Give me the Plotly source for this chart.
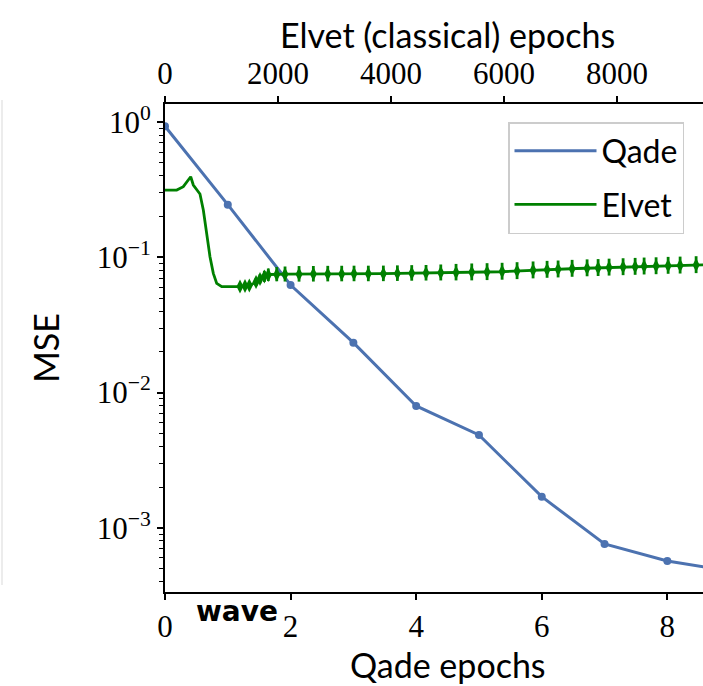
import plotly.graph_objects as go

# ---------------- data ----------------
qade_epochs = [0, 1, 2, 3, 4, 5, 6, 7, 8, 9]
qade_mse = [0.93, 0.245, 0.0624, 0.0234, 0.00796, 0.00486, 0.0017, 0.00076, 0.000569, 0.00048]

elvet_epochs = [0, 207, 324, 412, 455, 501, 619, 678, 738, 796, 855, 915, 1004, 1297,
                1504, 1611, 1681, 1770, 1858, 2124, 3858, 5044, 5929, 7292, 8407, 9416, 10000]
elvet_mse = [0.314, 0.314, 0.3325, 0.3726, 0.394, 0.342, 0.2937, 0.2237, 0.1504, 0.101,
             0.0761, 0.0642, 0.0606, 0.0606, 0.0619, 0.0657, 0.0697, 0.0727, 0.0746, 0.0750,
             0.0756, 0.0769, 0.0782, 0.0826, 0.0852, 0.0877, 0.0892]

# oscillation bursts of the Elvet loss (epoch, centre value, extent up / down in decades)
spike_epochs = [1327, 1416, 1492, 1611, 1681, 1758, 1828, 1977, 2124, 2372, 2625, 2880, 3127,
                3345, 3598, 3864, 4112, 4366, 4619, 4880, 5150, 5428, 5699, 5965, 6230, 6513,
                6761, 6956, 7204, 7469, 7664, 7858, 8106, 8319, 8478, 8690, 8903, 9115, 9398]
spike_center = [0.0609, 0.0614, 0.0619, 0.0657, 0.0691, 0.0721, 0.0740, 0.0746, 0.0748, 0.0750,
                0.0751, 0.0753, 0.0754, 0.0755, 0.0755, 0.0756, 0.0759, 0.0762, 0.0764, 0.0767,
                0.0771, 0.0775, 0.0779, 0.0784, 0.0792, 0.0802, 0.0810, 0.0815, 0.0824, 0.0831,
                0.0835, 0.0841, 0.0847, 0.0852, 0.0857, 0.0861, 0.0867, 0.0871, 0.0877]
spike_up = [0.018, 0.020, 0.022, 0.030, 0.035, 0.042, 0.048, 0.055, 0.058, 0.060, 0.060, 0.060,
            0.060, 0.060, 0.060, 0.060, 0.060, 0.060, 0.060, 0.062, 0.064, 0.065, 0.065, 0.065,
            0.065, 0.065, 0.065, 0.065, 0.065, 0.065, 0.065, 0.065, 0.065, 0.065, 0.065, 0.065,
            0.065, 0.065, 0.065]
spike_dn = [0.018, 0.020, 0.022, 0.030, 0.033, 0.040, 0.045, 0.050, 0.053, 0.055, 0.055, 0.055,
            0.055, 0.055, 0.055, 0.055, 0.055, 0.055, 0.055, 0.056, 0.058, 0.060, 0.060, 0.060,
            0.060, 0.060, 0.060, 0.060, 0.060, 0.060, 0.060, 0.060, 0.060, 0.060, 0.060, 0.060,
            0.060, 0.060, 0.060]

qade_ticks = [0, 2, 4, 6, 8]
elvet_ticks = [0, 2000, 4000, 6000, 8000]
y_tickvals = [1, 0.1, 0.01, 0.001]
y_ticktext = ["10<sup>0</sup>", "10<sup>−1</sup>", "10<sup>−2</sup>", "10<sup>−3</sup>"]

# ---------------- styling ----------------
BLUE = "#4C72B0"
GREEN = "#008000"
SERIF = "Liberation Serif"
SANS = "Lato"
SANS_SIZE = 34
W, H = 703, 686
ML, MT, MB = 165, 104, 94
X_MAX = 8.568
X2_MAX = 9520

err_plus = [c * (10 ** u) - c for c, u in zip(spike_center, spike_up)]
err_minus = [c - c * (10 ** (-d)) for c, d in zip(spike_center, spike_dn)]

minor_vals = [k * 10.0 ** e for e in range(-4, 1) for k in range(2, 10)]

fig = go.Figure()
fig.add_trace(go.Scatter(x=qade_epochs, y=qade_mse, mode="lines", name="Qade",
                         line=dict(color=BLUE, width=3), legendgroup="a"))
fig.add_trace(go.Scatter(x=qade_epochs, y=qade_mse, mode="markers", showlegend=False,
                         marker=dict(color=BLUE, size=8)))
fig.add_trace(go.Scatter(x=elvet_epochs, y=elvet_mse, mode="lines", name="Elvet",
                         line=dict(color=GREEN, width=2.8), xaxis="x2", legendgroup="b"))
fig.add_trace(go.Scatter(x=spike_epochs, y=spike_center, mode="markers", showlegend=False,
                         xaxis="x2",
                         marker=dict(color=GREEN, size=10, symbol="diamond-tall"),
                         error_y=dict(type="data", symmetric=False, array=err_plus,
                                      arrayminus=err_minus, color=GREEN, thickness=2.8, width=0)))

axis_common = dict(showline=True, linecolor="black", linewidth=2, ticks="outside",
                   ticklen=6, tickwidth=1.5, tickcolor="black", showgrid=False,
                   zeroline=False, tickfont=dict(family=SERIF, size=31, color="black"))

fig.update_layout(
    width=W, height=H,
    margin=dict(l=ML, r=0, t=MT, b=MB),
    paper_bgcolor="white", plot_bgcolor="white",
    xaxis=dict(range=[0, X_MAX], tickvals=qade_ticks, ticktext=[str(t) for t in qade_ticks],
               **axis_common),
    xaxis2=dict(range=[0, X2_MAX], overlaying="x", side="top", anchor="y",
                tickvals=elvet_ticks, ticktext=[str(t) for t in elvet_ticks], **axis_common),
    yaxis=dict(type="log", range=[-3.474, 0.133], tickvals=y_tickvals, ticktext=y_ticktext,
               title=dict(text="MSE", font=dict(family=SANS, size=SANS_SIZE, color="black"),
                          standoff=27),
               minor=dict(tickvals=minor_vals, ticks="outside", ticklen=4, tickwidth=1.2,
                          tickcolor="black", showgrid=False),
               **axis_common),
    legend=dict(x=(508 - ML) / (W - ML), y=0.963, xanchor="left", yanchor="top",
                bgcolor="white", bordercolor="#cccccc", borderwidth=1.5, itemwidth=82,
                tracegroupgap=9,
                font=dict(family=SANS, size=32, color="black")),
    showlegend=True,
)

plot_w = W - ML
plot_h = H - MT - MB
fig.add_annotation(text="Elvet (classical) epochs", xref="paper", yref="paper",
                   x=(447.5 - ML) / plot_w, y=1 + (MT - 35) / plot_h,
                   showarrow=False, font=dict(family=SANS, size=SANS_SIZE, color="black"),
                   xanchor="center", yanchor="middle")
fig.add_annotation(text="Qade epochs", xref="paper", yref="paper",
                   x=(447.5 - ML) / plot_w, y=-(664 - (H - MB)) / plot_h,
                   showarrow=False, font=dict(family=SANS, size=SANS_SIZE, color="black"),
                   xanchor="center", yanchor="middle")
fig.add_annotation(text="<b>wave</b>", xref="paper", yref="paper",
                   x=(237 - ML) / plot_w, y=-(611 - (H - MB)) / plot_h,
                   showarrow=False, font=dict(family="DejaVu Sans", size=28, color="black"),
                   xanchor="center", yanchor="middle")
fig.add_shape(type="line", xref="paper", yref="paper",
              x0=(2 - ML) / plot_w, x1=(2 - ML) / plot_w,
              y0=-(585 - (H - MB)) / plot_h, y1=1 + (MT - 100) / plot_h,
              line=dict(color="#e6e6e6", width=1.5))

fig.write_html("out.html")
